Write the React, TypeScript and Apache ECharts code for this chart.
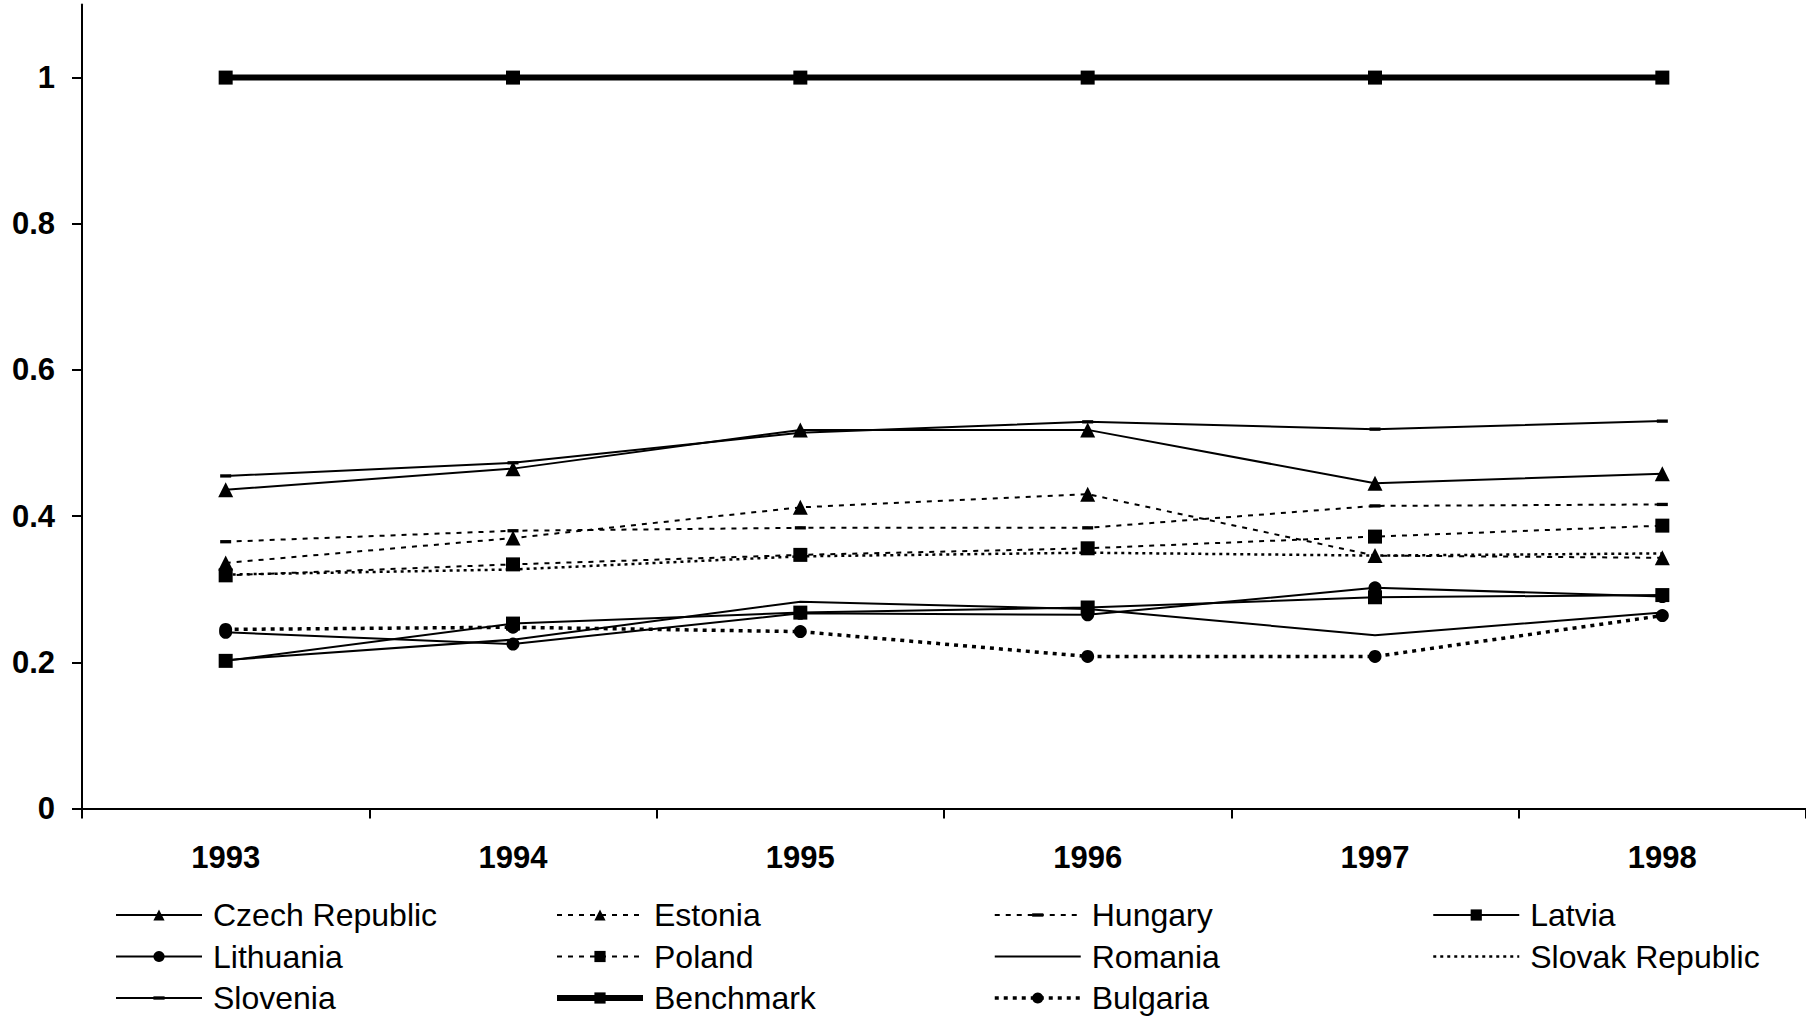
import React, { useEffect, useRef } from 'react';
import * as echarts from 'echarts';

const years = ['1993', '1994', '1995', '1996', '1997', '1998'];
const czechRepublic = [0.436, 0.465, 0.518, 0.518, 0.445, 0.458];
const estonia = [0.336, 0.370, 0.412, 0.430, 0.346, 0.343];
const hungary = [0.365, 0.380, 0.384, 0.384, 0.414, 0.416];
const latvia = [0.202, 0.253, 0.268, 0.275, 0.289, 0.292];
const lithuania = [0.241, 0.225, 0.267, 0.265, 0.302, 0.290];
const poland = [0.319, 0.334, 0.347, 0.356, 0.372, 0.387];
const romania = [0.203, 0.231, 0.283, 0.273, 0.237, 0.268];
const slovakRepublic = [0.320, 0.327, 0.345, 0.350, 0.346, 0.349];
const slovenia = [0.455, 0.473, 0.514, 0.529, 0.519, 0.530];
const benchmark = [1, 1, 1, 1, 1, 1];
const bulgaria = [0.245, 0.248, 0.242, 0.208, 0.208, 0.264];
const yTicks = [0, 0.2, 0.4, 0.6, 0.8, 1];

const legendColumns = [
  ['Czech Republic', 'Lithuania', 'Slovenia'],
  ['Estonia', 'Poland', 'Benchmark'],
  ['Hungary', 'Romania', 'Bulgaria'],
  ['Latvia', 'Slovak Republic'],
];

const FONT = '"Liberation Sans", Arial, sans-serif';
const DASH_MARK = 'path://M0,0M0,3.5L10,3.5L10,6.5L0,6.5ZM10,10';

type SeriesDef = {
  name: string;
  data: number[];
  symbol: string;
  size: number | number[];
  dash: string | number[];
  width: number;
};

const seriesDefs: SeriesDef[] = [
  { name: 'Czech Republic', data: czechRepublic, symbol: 'triangle', size: 15, dash: 'solid', width: 2 },
  { name: 'Estonia', data: estonia, symbol: 'triangle', size: 15, dash: [5, 6], width: 2 },
  { name: 'Hungary', data: hungary, symbol: DASH_MARK, size: 11, dash: [5, 6], width: 2 },
  { name: 'Latvia', data: latvia, symbol: 'rect', size: 14, dash: 'solid', width: 2 },
  { name: 'Lithuania', data: lithuania, symbol: 'circle', size: 13, dash: 'solid', width: 2 },
  { name: 'Poland', data: poland, symbol: 'rect', size: 14, dash: [5, 6], width: 2 },
  { name: 'Romania', data: romania, symbol: 'none', size: 0, dash: 'solid', width: 2 },
  { name: 'Slovak Republic', data: slovakRepublic, symbol: 'none', size: 0, dash: [3, 4], width: 2.5 },
  { name: 'Slovenia', data: slovenia, symbol: DASH_MARK, size: 11, dash: 'solid', width: 2 },
  { name: 'Benchmark', data: benchmark, symbol: 'rect', size: 14, dash: 'solid', width: 6 },
  { name: 'Bulgaria', data: bulgaria, symbol: 'circle', size: 13, dash: [4, 5], width: 3.5 },
];

export default function App() {
  const ref = useRef<HTMLDivElement>(null);

  useEffect(() => {
    if (!ref.current) return;
    const chart = echarts.init(ref.current, undefined, { renderer: 'svg' });

    const defByName: Record<string, SeriesDef> = {};
    seriesDefs.forEach((d) => (defByName[d.name] = d));

    const legendLefts = [115, 554, 993, 1432];
    const legends = legendColumns.map((names, i) => ({
      orient: 'vertical',
      left: legendLefts[i],
      top: 899,
      padding: 0,
      itemWidth: 86,
      itemHeight: 14,
      itemGap: 9.5,
      selectedMode: false,
      textStyle: {
        fontSize: 32,
        lineHeight: 32,
        color: '#000',
        fontFamily: FONT,
        padding: [0, 0, 0, 6],
      },
      data: names.map((n) => {
        const d = defByName[n];
        const item: any = { name: n, lineStyle: { width: d.width, type: d.dash, color: '#000' } };
        if (d.symbol === 'none') item.itemStyle = { opacity: 0 };
        return item;
      }),
    }));

    chart.setOption({
      animation: false,
      backgroundColor: '#fff',
      grid: { left: 82, right: 0, top: 4.5, bottom: 209.5, containLabel: false },
      legend: legends,
      xAxis: {
        type: 'category',
        data: years,
        boundaryGap: true,
        axisLine: { lineStyle: { color: '#000', width: 2 } },
        axisTick: { show: true, length: 10, lineStyle: { color: '#000', width: 2 } },
        axisLabel: { color: '#000', fontSize: 31, fontWeight: 'bold', fontFamily: FONT, margin: 33 },
        splitLine: { show: false },
      },
      yAxis: {
        type: 'value',
        min: 0,
        max: 1.1,
        axisLine: { show: true, lineStyle: { color: '#000', width: 2 } },
        axisTick: { show: true, length: 10, customValues: yTicks, lineStyle: { color: '#000', width: 2 } },
        axisLabel: {
          color: '#000',
          fontSize: 31,
          fontWeight: 'bold',
          fontFamily: FONT,
          margin: 27,
          customValues: yTicks,
          formatter: (v: number) => String(Math.round(v * 10) / 10),
        },
        splitLine: { show: false },
      },
      series: seriesDefs.map((d) => ({
        name: d.name,
        type: 'line',
        data: d.data,
        symbol: d.symbol,
        symbolSize: d.size,
        showSymbol: d.symbol !== 'none',
        lineStyle: { color: '#000', width: d.width, type: d.dash },
        itemStyle: { color: '#000', borderWidth: 0 },
        emphasis: { disabled: true },
        z: d.name === 'Benchmark' ? 3 : 2,
      })),
    });

    return () => chart.dispose();
  }, []);

  return (
    <div
      ref={ref}
      style={{ position: 'fixed', left: 0, top: 0, width: 1806, height: 1018, background: '#fff' }}
    />
  );
}
